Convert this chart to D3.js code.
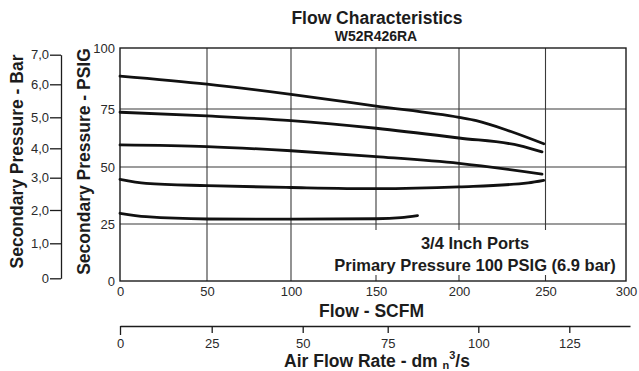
<!DOCTYPE html>
<html>
<head>
<meta charset="utf-8">
<script src="https://cdn.jsdelivr.net/npm/d3@7"></script>
<style>
  html, body { margin: 0; padding: 0; background: #fff; }
  svg { display: block; font-family: "Liberation Sans", Arial, Helvetica, sans-serif; }
</style>
</head>
<body>
<svg id="chart" width="639" height="371"></svg>
<script>
// ---------- data ----------
const titleText = "Flow Characteristics";
const subtitleText = "W52R426RA";
const noteLines = ["3/4 Inch Ports", "Primary Pressure 100 PSIG (6.9 bar)"];

const scfmTicks = [0, 50, 100, 150, 200, 250, 300];
const psigTicks = [0, 25, 50, 75, 100];
const barTicks = [0, 1, 2, 3, 4, 5, 6, 7];
const barTickLabels = ["0", "1,0", "2,0", "3,0", "4,0", "5,0", "6,0", "7,0"];
const dmTicks = [0, 25, 50, 75, 100, 125];

// secondary pressure curves (flow SCFM -> pressure PSIG)
const flow1 = [0, 50, 100, 150, 200, 210, 230, 249];
const psig1 = [88.5, 85.2, 81.0, 76.2, 71.4, 70.0, 65.3, 60.0];
const flow2 = [0, 50, 100, 150, 200, 235, 248];
const psig2 = [73.6, 72.0, 70.0, 66.7, 62.5, 59.2, 56.5];
const flow3 = [0, 50, 100, 150, 200, 248];
const psig3 = [59.5, 58.8, 57.0, 54.5, 51.6, 46.9];
const flow4 = [0, 15, 50, 100, 150, 200, 240, 249];
const psig4 = [44.6, 42.8, 41.8, 41.0, 40.5, 41.3, 43.0, 44.1];
const flow5 = [0, 15, 50, 100, 150, 165, 175];
const psig5 = [29.7, 28.2, 27.2, 27.1, 27.3, 27.8, 28.7];

const curves = [
  { flow: flow1, psig: psig1 },
  { flow: flow2, psig: psig2 },
  { flow: flow3, psig: psig3 },
  { flow: flow4, psig: psig4 },
  { flow: flow5, psig: psig5 }
];

// ---------- scales ----------
const x = d3.scaleLinear().domain(scfmTicks).range([120, 207, 291, 376, 459, 545.5, 626]);
const y = d3.scaleLinear().domain(psigTicks).range([281, 224, 167, 109, 48]);
const yBar = d3.scaleLinear().domain(barTicks).range([278.3, 243.3, 210, 177.7, 148.3, 117.3, 84.3, 54.7]);
const xDm = d3.scaleLinear().domain([0, 25, 50, 75, 100, 125, 142]).range([120, 211.7, 302.7, 387.7, 478.3, 569.3, 630]);

const svg = d3.select("#chart");
const ink = "#1c1c1c";
const gridCol = "#3a3a3a";

// ---------- titles ----------
svg.append("text").attr("x", 377).attr("y", 24).attr("text-anchor", "middle")
  .attr("font-size", 17.5).attr("font-weight", "bold").attr("fill", ink).text(titleText);
svg.append("text").attr("x", 376).attr("y", 40.5).attr("text-anchor", "middle")
  .attr("font-size", 14).attr("font-weight", "bold").attr("fill", ink).text(subtitleText);

// ---------- grid ----------
const grid = svg.append("g");
grid.selectAll("line.h").data(psigTicks.filter(d => d > 0 && d < 100)).enter().append("line")
  .attr("x1", x(0)).attr("x2", x(300)).attr("y1", d => y(d)).attr("y2", d => y(d))
  .attr("stroke", gridCol).attr("stroke-width", 1.1);
grid.selectAll("line.v").data(scfmTicks.filter(d => d > 0 && d < 300)).enter().append("line")
  .attr("x1", d => x(d)).attr("x2", d => x(d)).attr("y1", y(100)).attr("y2", y(0))
  .attr("stroke", gridCol).attr("stroke-width", 1.1);

// note box (white panel covering grid)
svg.append("rect").attr("x", 310).attr("y", 230).attr("width", 315).attr("height", 45).attr("fill", "#fff");
noteLines.forEach((t, i) => {
  svg.append("text").attr("x", 475).attr("y", i === 0 ? 249 : 271).attr("text-anchor", "middle")
    .attr("font-size", 16.5).attr("font-weight", "bold").attr("fill", ink).text(t);
});

// frame
svg.append("rect").attr("x", x(0)).attr("y", y(100)).attr("width", x(300) - x(0)).attr("height", y(0) - y(100))
  .attr("fill", "none").attr("stroke", ink).attr("stroke-width", 1.4);

// ---------- curves ----------
const line = d3.line().x(d => x(d[0])).y(d => y(d[1])).curve(d3.curveMonotoneX);
curves.forEach(c => {
  const pts = c.flow.map((f, i) => [f, c.psig[i]]);
  svg.append("path").attr("d", line(pts)).attr("fill", "none")
    .attr("stroke", "#111").attr("stroke-width", 2.8).attr("stroke-linecap", "round");
});

// ---------- axes ----------
function styleAxis(g) {
  g.selectAll("text").attr("fill", "#2a2a2a").attr("font-size", 13)
    .attr("font-family", "Liberation Sans, Arial, sans-serif");
  g.selectAll("line").attr("stroke", ink).attr("stroke-width", 1.3);
  g.selectAll("path.domain").attr("stroke", ink).attr("stroke-width", 1.3);
}

// PSIG labels (left of frame)
const gPsig = svg.append("g").attr("transform", `translate(${x(0)},0)`)
  .call(d3.axisLeft(y).tickValues(psigTicks).tickSize(0).tickPadding(5).tickFormat(d3.format("d")));
gPsig.select("path.domain").remove();
styleAxis(gPsig);

// Bar axis
const gBar = svg.append("g").attr("transform", "translate(61,0)")
  .call(d3.axisLeft(yBar).tickValues(barTicks).tickSize(11).tickSizeOuter(0).tickPadding(1)
    .tickFormat((d, i) => barTickLabels[i]));
styleAxis(gBar);

// SCFM labels
const gX = svg.append("g").attr("transform", `translate(0,${y(0)})`)
  .call(d3.axisBottom(x).tickValues(scfmTicks).tickSize(0).tickPadding(6).tickFormat(d3.format("d")));
gX.select("path.domain").remove();
styleAxis(gX);

// dm3/s axis
const gDm = svg.append("g").attr("transform", "translate(0,326)")
  .call(d3.axisBottom(xDm).tickValues(dmTicks).tickSize(7).tickSizeOuter(0).tickPadding(6).tickFormat(d3.format("d")));
styleAxis(gDm);
gDm.selectAll(".tick").filter(d => d === 0).select("line").attr("y2", 9);

// ---------- axis titles ----------
svg.append("text").attr("x", 371.5).attr("y", 316.5).attr("text-anchor", "middle")
  .attr("font-size", 17.5).attr("font-weight", "bold").attr("fill", ink).text("Flow - SCFM");

const dmTitle = svg.append("text").attr("x", 377).attr("y", 366.5).attr("text-anchor", "middle")
  .attr("font-size", 17.5).attr("font-weight", "bold").attr("fill", ink);
dmTitle.append("tspan").text("Air Flow Rate - dm ");
dmTitle.append("tspan").attr("font-size", 11).attr("dy", 2).text("n");
dmTitle.append("tspan").attr("font-size", 11).attr("dy", -10).text("3");
dmTitle.append("tspan").attr("dy", 8).text("/s");

svg.append("text").attr("transform", "translate(89.5,161.5) rotate(-90)").attr("text-anchor", "middle")
  .attr("font-size", 17.5).attr("font-weight", "bold").attr("fill", ink).text("Secondary Pressure - PSIG");
svg.append("text").attr("transform", "translate(22.5,161.5) rotate(-90)").attr("text-anchor", "middle")
  .attr("font-size", 17.5).attr("font-weight", "bold").attr("fill", ink).text("Secondary Pressure - Bar");
</script>
</body>
</html>
